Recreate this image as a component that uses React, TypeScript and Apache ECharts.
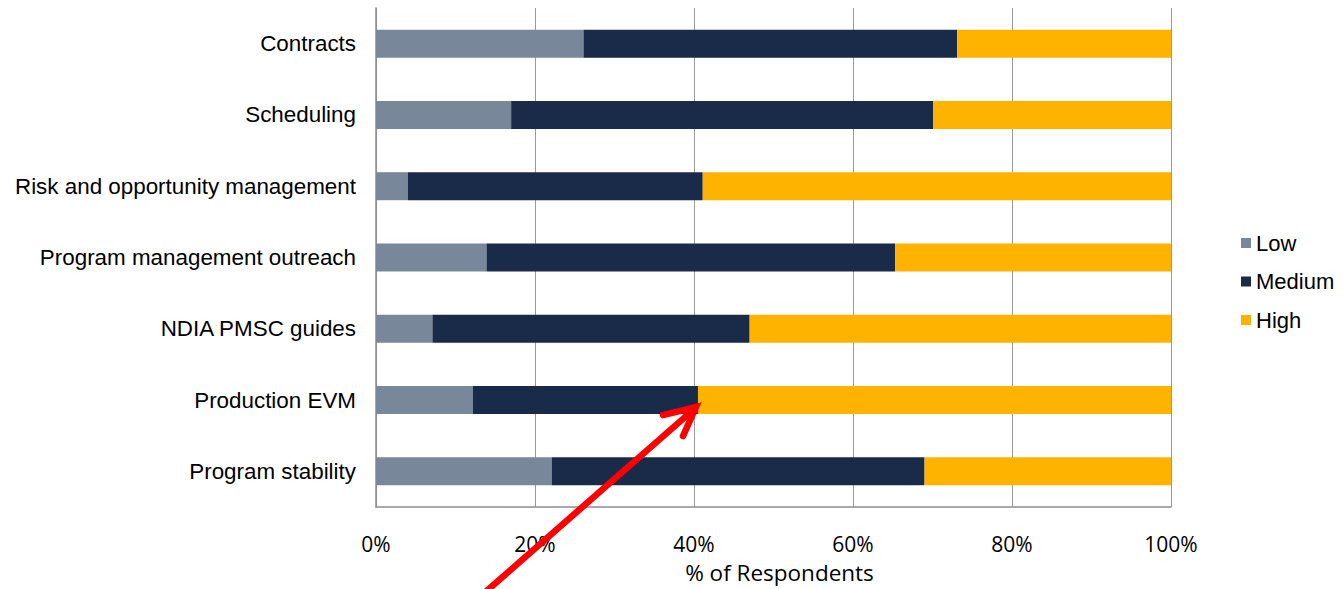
import React, { useEffect, useRef } from "react";
import * as echarts from "echarts";

const categories = [
  "Contracts",
  "Scheduling",
  "Risk and opportunity management",
  "Program management outreach",
  "NDIA PMSC guides",
  "Production EVM",
  "Program stability",
];
const lowValues = [26.1, 17.0, 4.0, 13.9, 7.1, 12.2, 22.1];
const mediumValues = [47.0, 53.1, 37.1, 51.4, 39.9, 28.3, 46.9];
const highValues = [26.9, 29.9, 58.9, 34.7, 53.0, 59.5, 31.0];
const xTicks = [0, 20, 40, 60, 80, 100];

export default function App() {
  const ref = useRef<HTMLDivElement>(null);
  useEffect(() => {
    if (!ref.current) return;
    const chart = echarts.init(ref.current, null, { renderer: "svg" });
    const labelFont = "'Liberation Sans', Arial, sans-serif";
    const axisFont = "'Open Sans', sans-serif";
    chart.setOption({
      animation: false,
      backgroundColor: "#ffffff",
      grid: {
        left: 376,
        right: 172,
        top: 8,
        bottom: 82,
        containLabel: false,
        outerBoundsMode: "none",
      },
      legend: {
        orient: "vertical",
        left: 1236,
        top: 227,
        icon: "rect",
        itemWidth: 10,
        itemHeight: 10,
        itemGap: 16.5,
        textStyle: { fontFamily: labelFont, fontSize: 22, color: "#000", lineHeight: 22 },
        data: ["Low", "Medium", "High"],
      },
      xAxis: {
        type: "value",
        min: 0,
        max: 100,
        interval: 20,
        name: "% of Respondents",
        nameLocation: "middle",
        nameGap: 54,
        nameTextStyle: { fontFamily: axisFont, fontSize: 22.5, color: "#000", lineHeight: 22, padding: [0, 0, 0, 12] },
        axisLine: { show: true, lineStyle: { color: "#8c8c8c", width: 1.5 } },
        axisTick: { show: false },
        axisLabel: {
          fontFamily: axisFont,
          fontSize: 21,
          color: "#000",
          margin: 26,
          formatter: (v: number) => (xTicks.includes(v) ? v + "%" : ""),
        },
        splitLine: { show: true, lineStyle: { color: "#9a9a9a", width: 1 } },
      },
      yAxis: {
        type: "category",
        data: categories,
        inverse: true,
        axisLine: { show: true, lineStyle: { color: "#8c8c8c", width: 1.5 } },
        axisTick: { show: false },
        axisLabel: { fontFamily: labelFont, fontSize: 22.4, color: "#000", margin: 20 },
      },
      series: [
        { name: "Low", type: "bar", stack: "t", data: lowValues, barWidth: 28, itemStyle: { color: "#788799" } },
        { name: "Medium", type: "bar", stack: "t", data: mediumValues, barWidth: 28, itemStyle: { color: "#1a2b49" } },
        { name: "High", type: "bar", stack: "t", data: highValues, barWidth: 28, itemStyle: { color: "#fdb300" } },
      ],
    });
    const idx = categories.indexOf("Production EVM");
    const tipPt = chart.convertToPixel({ gridIndex: 0 }, [lowValues[idx] + mediumValues[idx], idx]) as number[];
    const tx = tipPt[0] - 2;
    const ty = tipPt[1] + 7;
    const red = "#ff0000";
    chart.setOption({
      graphic: [
        {
          type: "line",
          shape: { x1: 482, y1: 595, x2: tx - 3, y2: ty + 3 },
          style: { stroke: red, lineWidth: 6.5, lineCap: "round" },
          z: 100,
        },
        {
          type: "polyline",
          shape: { points: [[tx - 33, ty + 8], [tx, ty], [tx - 13, ty + 29]] },
          style: { stroke: red, lineWidth: 6.5, lineCap: "round", lineJoin: "miter", fill: null },
          z: 100,
        },
      ],
    });
    return () => chart.dispose();
  }, []);
  return (
    <div
      ref={ref}
      style={{ position: "fixed", left: 0, top: 0, width: 1343, height: 589 }}
    />
  );
}
